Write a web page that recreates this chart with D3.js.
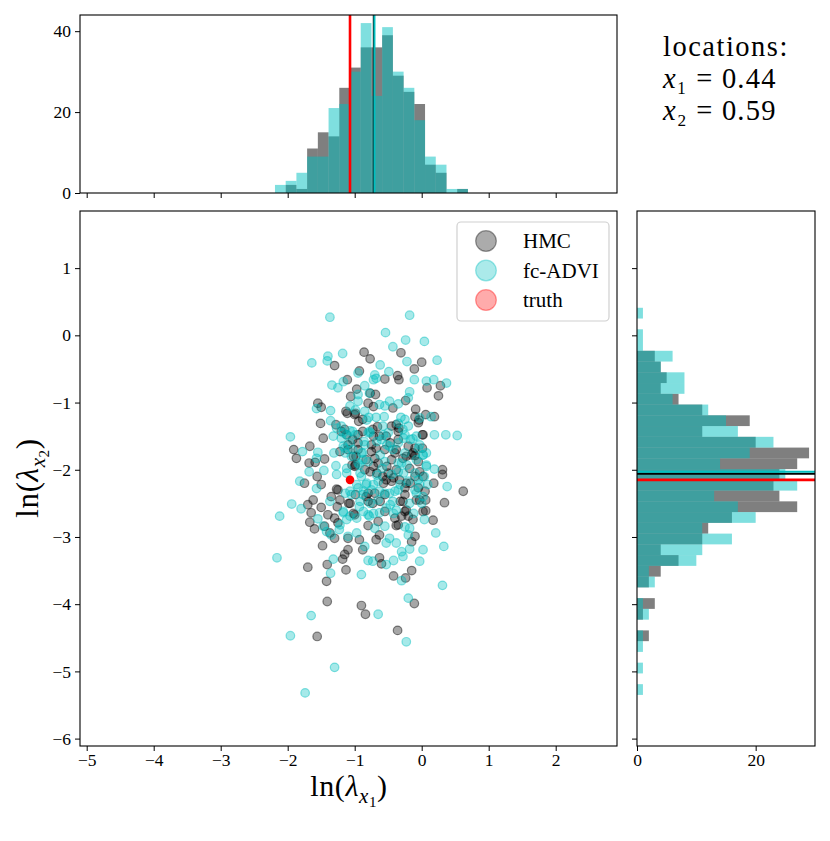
<!DOCTYPE html>
<html>
<head>
<meta charset="utf-8">
<script src="https://cdn.jsdelivr.net/npm/d3@7"></script>
<style>
  body { margin: 0; background: #fff; }
  text { font-family: "Liberation Serif", "DejaVu Serif", serif; fill: #000; }
</style>
</head>
<body>
<svg width="830" height="841"></svg>
<script>

// samples, [ln(lambda_x1), ln(lambda_x2)]
var hmc_points = [
  [-0.86,-0.25],[-0.77,-0.35],[-0.31,-0.26],[0.00,-0.40],[-0.11,-0.50],[-1.30,-0.45],[-0.36,-0.60],[-0.34,-0.66],
  [-0.55,-0.65],[-1.11,-0.66],[0.08,-0.78],[0.28,-0.75],[0.25,-0.90],[-0.97,-0.80],[-0.77,-0.86],[-0.69,-0.88],
  [-1.06,-0.91],[-0.24,-0.97],[-1.55,-1.01],[-1.50,-1.07],[-1.13,-1.13],[-0.80,-1.01],[-0.72,-1.06],[-0.43,-1.08],
  [-0.09,-1.10],[0.06,-1.18],[-0.04,-1.26],[-1.51,-1.31],[-1.28,-1.33],[-0.99,-1.16],[-0.88,-1.25],[-0.94,-1.28],
  [-1.20,-1.43],[0.01,-1.48],[-0.38,-1.33],[-0.34,-1.38],[-0.05,-1.30],
  [-1.91,-1.70],[-1.87,-1.83],[-1.67,-1.65],[-1.45,-1.84],[-1.68,-1.90],[-1.59,-1.89],[-1.56,-2.10],[-1.50,-2.22],
  [-1.75,-2.20],[-1.22,-1.73],[-1.10,-1.63],[-1.03,-1.55],[-0.95,-1.70],[-0.99,-1.93],[-0.85,-2.00],[-0.72,-1.95],
  [-0.67,-2.05],[-0.53,-2.15],[-0.38,-2.00],[-0.23,-1.80],[-0.13,-1.75],[0.01,-1.68],[0.31,-2.00],[0.31,-2.07],
  [0.62,-2.32],[0.18,-2.20],[-0.23,-2.20],[-0.68,-1.68],[-0.53,-1.50],[-0.38,-1.70],[-0.66,-1.36],[-1.27,-2.29],
  [-1.70,-2.52],[-1.65,-2.64],[-1.67,-2.78],[-1.60,-2.88],[-1.62,-2.45],[-1.50,-2.56],[-1.40,-2.67],[-1.45,-2.84],
  [-1.37,-2.94],[-1.30,-3.02],[-1.25,-2.79],[-1.26,-2.55],[-1.22,-2.45],[-1.10,-3.02],[-0.93,-3.04],[-0.88,-3.19],
  [-0.80,-2.83],[-1.00,-2.67],[-1.07,-2.50],[-0.83,-2.40],[-0.65,-2.77],[-0.68,-3.04],[-0.38,-2.83],[-0.40,-2.72],
  [-0.23,-2.60],[-0.13,-2.74],[-0.10,-2.99],[-0.15,-3.07],[0.06,-2.61],[0.17,-2.75],[0.06,-2.45],[0.34,-2.49],
  [-1.48,-3.13],[-1.70,-3.45],[-1.41,-3.41],[-1.18,-3.33],[-1.15,-3.26],[-1.10,-3.19],[-1.13,-3.49],[-1.42,-3.66],
  [-0.63,-3.31],[-0.60,-3.40],[-0.42,-3.58],[-0.15,-3.50],[-0.24,-3.61],[-0.11,-3.99],[-1.41,-3.96],[-0.90,-4.02],
  [-0.84,-4.15],[-0.36,-4.39],[-1.56,-4.48],
  [-0.93,-0.53],[-1.11,-1.16],[-1.00,-1.18],[-1.15,-1.40],[-0.95,-1.48],[-0.88,-1.43],[-1.47,-1.53],[-1.10,-1.70],
  [-0.98,-1.80],[-1.00,-1.95],[-0.83,-1.85],
  [0.19,-1.21],[-0.10,-1.21],[-0.45,-1.35],[-0.73,-1.40],[-0.63,-1.50],[-0.35,-1.55],[-0.75,-1.63],[-0.55,-1.70],
  [-0.20,-1.65],[-0.28,-1.83],[-0.10,-1.79],[-0.45,-1.85],[-0.70,-1.83],[-0.18,-1.98],[-0.03,-2.03],[-0.10,-2.10],
  [-0.58,-2.10],[-1.25,-2.30],[-1.35,-2.40],[-1.30,-2.72],[-0.80,-2.35],
  [-0.33,-2.15],[-0.80,-2.47],[-0.55,-2.37],[-0.25,-2.27],[-0.05,-2.27],[-0.08,-2.45],[-0.73,-2.50],[-0.28,-2.47],
  [-0.30,-2.69],[-0.20,-2.69],[-0.35,-2.82],[-0.63,-2.97],
  // dense core
  [-1.12,-1.48],[-0.72,-1.50],[-0.35,-1.43],[0.02,-1.48],[-0.95,-1.60],[-0.47,-1.60],[-0.10,-1.68],
  [-1.02,-1.80],[-0.75,-1.73],[-0.40,-1.75],[-0.15,-1.78],[-1.04,-1.93],[-0.65,-1.90],[-0.52,-1.95],[-0.05,-1.88],
  [-0.77,-2.03],[-0.50,-2.05],[-0.42,-2.12],[0.02,-2.10],[-0.57,-2.20],[-0.45,-2.17],[-0.17,-2.20],
  [-0.99,-2.37],[-0.70,-2.35],[-0.25,-2.37],[0.05,-2.32],[-1.09,-2.50],[-0.62,-2.47],[-0.32,-2.47],[-0.03,-2.45],
  [-1.02,-2.65],[-0.55,-2.62],[-0.25,-2.62],[0.02,-2.62]
]

var advi_points = [
  [-1.37,0.27],[-0.18,0.30],[-0.54,0.04],[-0.24,-0.07],[0.04,-0.09],[-0.43,-0.17],[-1.40,-0.31],[-1.18,-0.27],
  [-1.64,-0.41],[-1.41,-0.38],[-0.22,-0.39],[0.23,-0.37],[-0.62,-0.44],[-0.95,-0.56],[-0.49,-0.54],[-0.70,-0.59],
  [-0.72,-0.66],[-1.17,-0.69],[-1.34,-0.74],[-1.25,-0.78],[-0.11,-0.66],[0.07,-0.68],[0.18,-0.66],[0.37,-0.71],
  [-0.85,-0.75],[-0.18,-0.84],[-0.20,-0.93],[-1.57,-1.09],[-1.36,-1.12],[-1.07,-1.05],[-0.95,-0.98],[-0.55,-1.05],
  [-0.48,-0.98],[-0.35,-1.02],[0.14,-1.21],[-1.36,-1.27],[-0.79,-1.22],[-0.68,-1.22],[-0.56,-1.21],[-1.27,-1.38],
  [-1.12,-1.48],[-1.96,-1.51],[0.19,-1.48],[0.36,-1.48],[0.53,-1.49],[-0.27,-1.53],[-0.13,-1.54],[-0.31,-1.22],
  [-1.78,-1.73],[-1.55,-1.74],[-1.68,-2.03],[-1.46,-2.01],[-1.82,-2.17],[-1.57,-2.28],[-1.27,-2.07],[-1.28,-1.94],
  [-1.31,-1.75],[-1.17,-1.65],[-1.05,-1.80],[-0.88,-1.85],[-0.90,-2.10],[-0.59,-1.98],[-0.45,-2.07],[-0.30,-1.90],
  [-0.08,-1.85],[0.02,-1.78],[0.07,-1.95],[0.38,-2.25],[-0.05,-2.15],[-0.60,-1.55],[-0.48,-1.65],[-0.78,-1.43],
  [-0.86,-1.58],[-1.07,-2.32],
  [-1.94,-2.51],[-2.12,-2.69],[-1.80,-2.58],[-1.55,-2.73],[-1.35,-2.97],[-1.23,-2.89],[-1.12,-2.74],[-0.97,-2.94],
  [-0.85,-3.14],[-0.78,-2.69],[-0.93,-2.55],[-0.63,-2.64],[-0.55,-2.84],[-0.53,-3.09],[-0.48,-3.02],[-0.38,-2.60],
  [-0.18,-2.87],[-0.30,-3.22],[-0.18,-3.18],[0.02,-3.19],[-0.03,-3.36],[0.04,-2.74],[0.00,-2.50],[0.21,-2.94],
  [0.33,-3.14],[0.31,-3.72],[-2.16,-3.31],[-1.32,-3.33],[-1.36,-3.54],[-0.90,-3.56],[-0.80,-3.35],[-0.73,-3.36],
  [-0.53,-3.41],[-0.42,-3.35],[-0.30,-3.65],[-0.20,-3.91],[-0.65,-4.15],[-1.65,-4.17],[-0.23,-4.56],[-1.96,-4.47],
  [-1.30,-4.94],[-1.74,-5.32],
  [-0.95,-0.88],[-0.99,-1.11],[-0.85,-1.13],[-0.82,-1.26],[-1.20,-1.35],[-1.07,-1.42],[-1.03,-1.43],[-1.32,-1.50],
  [-1.20,-1.53],[-1.15,-1.68],[-1.03,-1.70],[-0.88,-1.75],[-1.57,-1.83],[-1.12,-1.98],[-0.93,-1.93],
  [-0.68,-0.64],[-0.78,-0.86],[-0.63,-1.03],[-0.03,-1.23],[-0.25,-1.25],[-0.20,-1.35],[-0.35,-1.31],[-0.28,-1.40],
  [-0.58,-1.35],[-0.80,-1.45],[-0.50,-1.45],[-0.08,-1.50],[-0.43,-1.70],[-0.05,-1.68],[0.07,-1.75],[-0.55,-1.88],
  [0.19,-1.99],[-0.35,-2.03],[0.04,-2.10],
  [-1.47,-2.84],[-1.37,-2.47],[-1.17,-2.64],[-1.22,-2.82],[-1.42,-2.92],[-1.10,-2.99],[-0.97,-2.72],[-1.07,-2.69],
  [-1.05,-2.37],[-0.88,-2.37],[-0.95,-2.27],[-0.83,-2.22],
  [-0.65,-2.17],[-0.20,-2.17],[0.09,-2.22],[-0.75,-2.30],[-0.63,-2.32],[-0.48,-2.35],[-0.35,-2.30],[-0.10,-2.30],
  [0.02,-2.40],[-0.65,-2.45],[-0.43,-2.47],[-0.53,-2.57],[-0.80,-2.67],[-0.70,-2.87],[-0.25,-2.85],[-0.20,-2.97],
  [-0.38,-3.09],[-0.28,-3.29],
  // dense core
  [-1.17,-1.45],[-0.99,-1.48],[-0.77,-1.45],[-0.57,-1.48],[-0.25,-1.48],[-1.07,-1.60],[-0.85,-1.63],[-0.67,-1.58],
  [-0.52,-1.63],[-0.35,-1.60],[-0.17,-1.55],[-0.03,-1.63],[-1.14,-1.75],[-0.90,-1.75],[-0.62,-1.78],[-0.25,-1.75],
  [0.02,-1.78],[-0.95,-1.90],[-0.80,-1.88],[-0.35,-1.90],[-0.22,-1.93],[0.07,-1.93],[-1.12,-2.05],[-0.92,-2.05],
  [-0.67,-2.08],[-0.27,-2.05],[-0.10,-2.05],[-0.97,-2.22],[-0.82,-2.20],[-0.72,-2.22],[-0.32,-2.22],[-0.03,-2.22],
  [-1.14,-2.35],[-0.87,-2.32],[-0.55,-2.35],[-0.40,-2.32],[-0.08,-2.35],[-0.92,-2.47],[-0.77,-2.50],[-0.47,-2.52],
  [-0.18,-2.50],[-1.17,-2.62],[-0.87,-2.62],[-0.72,-2.65],[-0.42,-2.65],[-0.12,-2.65]
]

var truth = [-1.07, -2.15]
var hmc_mean = [-0.715, -2.06]
var advi_mean = [-0.705, -2.03]

// marginal histograms, counts per bin (bins of 0.16, from the low edge up)
var x_bin_lo = -2.19, y_bin_lo = -5.35, bin_w = 0.16
var top_hmc  = [0,2,1,11,15,14,26,31,36,36,39,29,25,22,7,5,0,1]
var top_advi = [2,3,5,9,9,21,22,30,42,24,41,30,26,18,9,7,1,1]
var side_hmc  = [0,0,0,0,0,2,0,1,3,0,2,4,7,4,11,12,16,27,24,23,24,27,29,20,11,19,11,7,4,5,4,3,0,0,0,0]
var side_advi = [1,0,1,0,1,1,0,2,1,0,3,2,10,11,16,11,20,17,13,27,25,14,19,23,17,15,12,6,8,8,4,6,1,1,0,1]

var main_xticks = [-5,-4,-3,-2,-1,0,1,2]
var main_yticks = [-6,-5,-4,-3,-2,-1,0,1]
var top_yticks = [0,20,40]
var side_xticks = [0,20]

var legend_labels = ['HMC', 'fc-ADVI', 'truth']
var loc_subs = ['₁', '₂']
var loc_values = ['0.44', '0.59']

var gray = '#000000', cyan = '#00bfbf', red = '#ff0000'

var svg = d3.select('svg')

var x = d3.scaleLinear().domain([-5.1, 2.915]).range([80, 617])
var y = d3.scaleLinear().domain([-6.11, 1.85]).range([746, 211])
var top_y = d3.scaleLinear().domain([0, 44]).range([193, 15])
var side_x = d3.scaleLinear().domain([0, 30]).range([637, 815])

function style_axis (g) {
  g.select('.domain').remove()
  g.selectAll('.tick line').attr('stroke', '#000').attr('stroke-width', 1)
  g.selectAll('.tick text')
    .style('font-family', '"Liberation Serif", serif')
    .style('font-size', '17.5px')
    .attr('fill', '#000')
}

function frame (x0, y0, x1, y1) {
  svg.append('rect')
    .attr('x', x0).attr('y', y0)
    .attr('width', x1 - x0).attr('height', y1 - y0)
    .attr('fill', 'none').attr('stroke', '#000').attr('stroke-width', 1.1)
}

////////////////////// TOP HISTOGRAM //////////////////////

function top_bars (counts, color) {
  svg.append('g').selectAll('rect')
    .data(counts)
    .enter()
      .append('rect')
      .attr('x', (d, i) => x(x_bin_lo + i*bin_w))
      .attr('width', (d, i) => x(x_bin_lo + (i+1)*bin_w) - x(x_bin_lo + i*bin_w))
      .attr('y', (d) => top_y(d))
      .attr('height', (d) => top_y(0) - top_y(d))
      .attr('fill', color)
      .attr('fill-opacity', 0.5)
}
top_bars(top_hmc, gray)
top_bars(top_advi, cyan)

;[[hmc_mean[0], '#000'], [advi_mean[0], cyan], [truth[0], red]].forEach((l) => {
  svg.append('line')
    .attr('x1', x(l[0])).attr('x2', x(l[0]))
    .attr('y1', top_y(44)).attr('y2', top_y(0))
    .attr('stroke', l[1]).attr('stroke-width', l[1] === red ? 2.6 : 2)
})

svg.append('g').attr('transform', 'translate(0,193)')
  .call(d3.axisBottom(x).tickValues(main_xticks).tickSize(5).tickFormat(''))
  .call(style_axis)
svg.append('g').attr('transform', 'translate(80,0)')
  .call(d3.axisLeft(top_y).tickValues(top_yticks).tickSize(5).tickPadding(4))
  .call(style_axis)
frame(80, 15, 617, 193)

////////////////////// SIDE HISTOGRAM //////////////////////

function side_bars (counts, color) {
  svg.append('g').selectAll('rect')
    .data(counts)
    .enter()
      .append('rect')
      .attr('y', (d, i) => y(y_bin_lo + (i+1)*bin_w))
      .attr('height', (d, i) => y(y_bin_lo + i*bin_w) - y(y_bin_lo + (i+1)*bin_w))
      .attr('x', side_x(0))
      .attr('width', (d) => side_x(d) - side_x(0))
      .attr('fill', color)
      .attr('fill-opacity', 0.5)
}
side_bars(side_hmc, gray)
side_bars(side_advi, cyan)

;[[hmc_mean[1], '#000'], [advi_mean[1], cyan], [truth[1], red]].forEach((l) => {
  svg.append('line')
    .attr('y1', y(l[0])).attr('y2', y(l[0]))
    .attr('x1', side_x(0)).attr('x2', side_x(30))
    .attr('stroke', l[1])
    .attr('stroke-width', l[1] === red ? 2.6 : 2)
})

svg.append('g').attr('transform', 'translate(0,746)')
  .call(d3.axisBottom(side_x).tickValues(side_xticks).tickSize(5).tickPadding(3))
  .call(style_axis)
svg.append('g').attr('transform', 'translate(637,0)')
  .call(d3.axisLeft(y).tickValues(main_yticks).tickSize(5).tickFormat(''))
  .call(style_axis)
frame(637, 211, 815, 746)

////////////////////// SCATTER //////////////////////

function scatter (points, color) {
  svg.append('g').selectAll('circle')
    .data(points)
    .enter()
      .append('circle')
      .attr('cx', (d) => x(d[0]))
      .attr('cy', (d) => y(d[1]))
      .attr('r', 4.3)
      .attr('fill', color).attr('fill-opacity', 0.35)
      .attr('stroke', color).attr('stroke-opacity', 0.45).attr('stroke-width', 1.2)
}
scatter(hmc_points, gray)
scatter(advi_points, cyan)

svg.append('circle')
  .attr('cx', x(truth[0])).attr('cy', y(truth[1]))
  .attr('r', 4.3).attr('fill', red)

svg.append('g').attr('transform', 'translate(0,746)')
  .call(d3.axisBottom(x).tickValues(main_xticks).tickSize(5).tickPadding(3))
  .call(style_axis)
svg.append('g').attr('transform', 'translate(80,0)')
  .call(d3.axisLeft(y).tickValues(main_yticks).tickSize(5).tickPadding(4))
  .call(style_axis)
frame(80, 211, 617, 746)

// legend
var legend = svg.append('g')
legend.append('rect')
  .attr('x', 457).attr('y', 222).attr('width', 152).attr('height', 99).attr('rx', 4)
  .attr('fill', '#fff').attr('fill-opacity', 0.8)
  .attr('stroke', '#d0d0d0').attr('stroke-width', 1.2)

var legend_rows = legend.selectAll('.row')
  .data(legend_labels)
  .enter()
    .append('g')
    .attr('class', 'row')
    .attr('transform', (d, i) => 'translate(486,' + (241 + i*29.5) + ')')

legend_rows.append('circle')
  .attr('r', 10.3)
  .attr('fill', (d, i) => [gray, cyan, red][i]).attr('fill-opacity', 0.33)
  .attr('stroke', (d, i) => [gray, cyan, red][i]).attr('stroke-opacity', 0.4).attr('stroke-width', 1.2)

legend_rows.append('text')
  .attr('x', 37).attr('y', 7)
  .style('font-size', '21px')
  .text((d) => d)

// axis labels: ln(lambda_x1), ln(lambda_x2)
function math_label (sel, sub) {
  sel.append('tspan').text('ln(')
  sel.append('tspan').style('font-style', 'italic').text('λ')
  sel.append('tspan').style('font-style', 'italic').attr('dy', 7).style('font-size', '21px').text('x')
  sel.append('tspan').attr('dy', 4).style('font-size', '15px').text(sub)
  sel.append('tspan').attr('dy', -11).text(')')
}

svg.append('text')
  .attr('x', 349).attr('y', 796)
  .attr('text-anchor', 'middle')
  .style('font-size', '30px')
  .style('letter-spacing', '0.6px')
  .call(math_label, '1')

svg.append('text')
  .attr('transform', 'translate(38,478) rotate(-90)')
  .attr('text-anchor', 'middle')
  .style('font-size', '31px')
  .style('letter-spacing', '0.6px')
  .call(math_label, '2')

// locations note
svg.append('text')
  .attr('x', 663).attr('y', 56)
  .style('font-size', '28.5px')
  .style('letter-spacing', '1.5px')
  .text('locations:')

loc_values.forEach((v, i) => {
  var t = svg.append('text')
    .attr('x', 663).attr('y', 88 + i*32)
    .style('font-size', '28.5px')
    .style('letter-spacing', '1.2px')
  t.append('tspan').style('font-style', 'italic').text('x')
  t.append('tspan').text(loc_subs[i] + ' = ' + v)
})

</script>
</body>
</html>
